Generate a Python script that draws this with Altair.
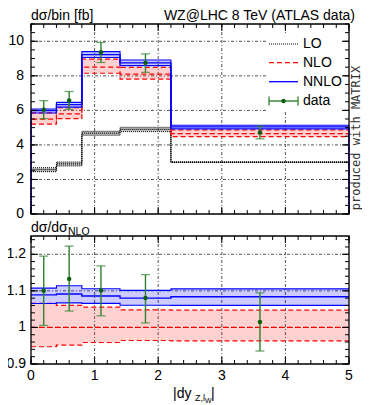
import altair as alt
import pandas as pd

# ---------------- data ----------------
bin_edges = [0.0, 0.4, 0.8, 1.4, 2.2, 5.0]

lo_central = [2.57, 2.90, 4.68, 4.90, 3.00]
lo_low = [2.45, 2.78, 4.56, 4.77, 2.98]
lo_high = [2.68, 3.01, 4.79, 5.02, 3.02]

nlo_central = [5.49, 5.80, 8.50, 8.10, 4.65]
nlo_low = [5.20, 5.52, 8.15, 7.81, 4.48]
nlo_high = [5.85, 6.15, 8.97, 8.49, 4.87]

nnlo_central = [5.98, 6.33, 9.23, 8.75, 5.04]
nnlo_low = [5.85, 6.19, 9.06, 8.59, 4.93]
nnlo_high = [6.08, 6.46, 9.40, 8.92, 5.14]

data_x = [0.2, 0.6, 1.1, 1.8, 3.6]
data_val = [6.04, 6.57, 9.36, 8.75, 4.72]
data_lo = [5.52, 6.06, 8.77, 8.20, 4.35]
data_hi = [6.56, 7.09, 9.93, 9.27, 5.09]

top_yticks = [0, 2, 4, 6, 8, 10]
top_ylabels = ["0", "2", "4", "6", "8", "10"]
bot_yticks = [0.9, 1.0, 1.1, 1.2]
bot_ylabels = ["0.9", "1", "1.1", "1.2"]
xticks = [0, 1, 2, 3, 4, 5]
xlabels = ["0", "1", "2", "3", "4", "5"]
legend_names = ["LO", "NLO", "NNLO", "data"]

# ---------------- layout ----------------
W = 318
TOP_H = 190
BOT_T, BOT_B = 212, 340
H = BOT_B
FONT = "Liberation Sans"
RED, BLUE, GREEN, GREEN_D = "#ff0000", "#0000ff", "#2f812f", "#0b5e0b"
GRID_DASH = [3, 2, 1, 2]

xs = alt.Scale(domain=[0, 5], nice=False, zero=False)
ys_top = alt.Scale(domain=[0, 11], range=[TOP_H, 0], nice=False, zero=False)
ys_bot = alt.Scale(domain=[0.9, 1.25], range=[BOT_B, BOT_T], nice=False, zero=False)


def X(f):
    return alt.X(f"{f}:Q", scale=xs, axis=None)


def Y(f, s):
    return alt.Y(f"{f}:Q", scale=s, axis=None)


def ratio(a, b):
    return [x / y for x, y in zip(a, b)]


def step_df(vals):
    return pd.DataFrame({"x": bin_edges, "y": vals + [vals[-1]]})


def band_df(lo, hi):
    return pd.DataFrame({"x": bin_edges, "lo": lo + [lo[-1]], "hi": hi + [hi[-1]]})


def drop_df(vals):
    xs_ = [0.0] + bin_edges + [5.0]
    ys_ = [0.0] + vals + [vals[-1]] + [0.0]
    return pd.DataFrame({"x": xs_, "y": ys_, "i": list(range(len(xs_)))})


def band(lo, hi, s, color, op):
    return alt.Chart(band_df(lo, hi)).mark_area(
        interpolate="step-after", color=color, opacity=op
    ).encode(x=X("x"), y=Y("lo", s), y2="hi")


def step(vals, s, color, dash, width=1.2):
    return alt.Chart(step_df(vals)).mark_line(
        interpolate="step-after", color=color, strokeDash=dash, strokeWidth=width
    ).encode(x=X("x"), y=Y("y", s))


def dropline(vals, s, color, dash, width=1.2):
    return alt.Chart(drop_df(vals)).mark_line(
        interpolate="step-after", color=color, strokeDash=dash, strokeWidth=width
    ).encode(x=X("x"), y=Y("y", s), order=alt.Order("i:Q"))


def txt(s, x, y, size=14, align="left", baseline="alphabetic", angle=0, font=FONT, color="black"):
    return alt.Chart(pd.DataFrame({"t": [s]})).mark_text(
        align=align, baseline=baseline, fontSize=size, font=font, color=color, angle=angle
    ).encode(x=alt.value(x), y=alt.value(y), text="t:N")


def hgrid(vals, s, x0, x1):
    return alt.Chart(pd.DataFrame({"v": vals})).mark_rule(
        color="black", strokeWidth=0.8, strokeDash=GRID_DASH, opacity=0.85
    ).encode(y=Y("v", s), x=alt.value(x0), x2=alt.value(x1))


def vgrid(vals, y0, y1):
    return alt.Chart(pd.DataFrame({"v": vals})).mark_rule(
        color="black", strokeWidth=0.8, strokeDash=GRID_DASH, opacity=0.85
    ).encode(x=X("v"), y=alt.value(y0), y2=alt.value(y1))


def yticks_rules(vals, s, length):
    c = alt.Chart(pd.DataFrame({"v": vals})).mark_rule(color="black", strokeWidth=1)
    return [c.encode(y=Y("v", s), x=alt.value(0), x2=alt.value(length)),
            c.encode(y=Y("v", s), x=alt.value(W), x2=alt.value(W - length))]


def xticks_rules(vals, y_top, y_bot, length):
    c = alt.Chart(pd.DataFrame({"v": vals})).mark_rule(color="black", strokeWidth=1)
    return [c.encode(x=X("v"), y=alt.value(y_top), y2=alt.value(y_top + length)),
            c.encode(x=X("v"), y=alt.value(y_bot), y2=alt.value(y_bot - length))]


def frame(y0, y1):
    return alt.Chart(pd.DataFrame({"a": [0]})).mark_rect(
        fillOpacity=0, stroke="black", strokeWidth=1.3
    ).encode(x=alt.value(0), x2=alt.value(W), y=alt.value(y0), y2=alt.value(y1))


def data_layers(xv, val, lo, hi, s):
    df = pd.DataFrame({"x": xv, "v": val, "lo": lo, "hi": hi})
    base = alt.Chart(df)
    return [
        base.mark_rule(color=GREEN, strokeWidth=1.4).encode(x=X("x"), y=Y("lo", s), y2="hi"),
        base.mark_tick(orient="horizontal", color=GREEN, size=9, thickness=1.3).encode(x=X("x"), y=Y("lo", s)),
        base.mark_tick(orient="horizontal", color=GREEN, size=9, thickness=1.3).encode(x=X("x"), y=Y("hi", s)),
        base.mark_point(filled=True, shape="circle", size=20, color=GREEN_D, opacity=1).encode(x=X("x"), y=Y("v", s)),
    ]


# ratios to NLO central
one = [1.0] * 5
r_nlo_lo, r_nlo_hi = ratio(nlo_low, nlo_central), ratio(nlo_high, nlo_central)
r_nnlo_c = ratio(nnlo_central, nlo_central)
r_nnlo_lo, r_nnlo_hi = ratio(nnlo_low, nlo_central), ratio(nnlo_high, nlo_central)
r_data = ratio(data_val, nlo_central)
r_data_lo, r_data_hi = ratio(data_lo, nlo_central), ratio(data_hi, nlo_central)

minor_x = [round(0.2 * k, 2) for k in range(26)]
minor_top_y = [0.5 * k for k in range(23)]
minor_bot_y = [round(0.9 + 0.02 * k, 2) for k in range(18)]

layers = []
# grids
layers += [hgrid(top_yticks[1:], ys_top, 0, W), vgrid([1, 2, 3, 4], 0, TOP_H),
           hgrid([1.0, 1.1, 1.2], ys_bot, 0, W), vgrid([1, 2, 3, 4], BOT_T, BOT_B)]

# legend white box (hides grid behind the key)
layers.append(alt.Chart(pd.DataFrame({"a": [0]})).mark_rect(color="white").encode(
    x=alt.value(236), x2=alt.value(310), y=alt.value(9), y2=alt.value(88)))

# ---- top panel ----
layers += [band(lo_low, lo_high, ys_top, "#777777", 0.45),
           band(nlo_low, nlo_high, ys_top, RED, 0.18),
           band(nnlo_low, nnlo_high, ys_top, BLUE, 0.22)]
layers += [step(lo_low, ys_top, "black", [1, 1], 1), step(lo_high, ys_top, "black", [1, 1], 1),
           dropline(lo_central, ys_top, "black", [1, 1], 1.1)]
layers += [step(nlo_low, ys_top, RED, [5, 3]), step(nlo_high, ys_top, RED, [5, 3]),
           dropline(nlo_central, ys_top, RED, [5, 3])]
layers += [step(nnlo_low, ys_top, BLUE, [1, 0], 1.1), step(nnlo_high, ys_top, BLUE, [1, 0], 1.1),
           dropline(nnlo_central, ys_top, BLUE, [1, 0], 1.3)]
layers += data_layers(data_x, data_val, data_lo, data_hi, ys_top)

# ---- ratio panel ----
layers += [band(r_nlo_lo, r_nlo_hi, ys_bot, RED, 0.18),
           band(r_nnlo_lo, r_nnlo_hi, ys_bot, BLUE, 0.2)]
layers += [step(r_nlo_lo, ys_bot, RED, [5, 3]), step(r_nlo_hi, ys_bot, RED, [5, 3]),
           step(one, ys_bot, RED, [5, 3])]
layers += [step(r_nnlo_lo, ys_bot, BLUE, [1, 0], 1.1), step(r_nnlo_hi, ys_bot, BLUE, [1, 0], 1.1),
           step(r_nnlo_c, ys_bot, BLUE, [1, 0], 1.3)]
layers += data_layers(data_x, r_data, r_data_lo, r_data_hi, ys_bot)

# ---- ticks and frames ----
layers += yticks_rules(top_yticks, ys_top, 7) + yticks_rules(minor_top_y, ys_top, 4)
layers += yticks_rules(bot_yticks, ys_bot, 7) + yticks_rules(minor_bot_y, ys_bot, 4)
layers += xticks_rules(xticks, 0, TOP_H, 7) + xticks_rules(minor_x, 0, TOP_H, 4)
layers += xticks_rules(xticks, BOT_T, BOT_B, 7) + xticks_rules(minor_x, BOT_T, BOT_B, 4)
layers += [frame(0, TOP_H), frame(BOT_T, BOT_B)]

# ---- tick labels ----
layers.append(alt.Chart(pd.DataFrame({"v": top_yticks, "t": top_ylabels})).mark_text(
    align="right", baseline="middle", fontSize=14, font=FONT).encode(
    x=alt.value(-7), y=Y("v", ys_top), text="t:N"))
layers.append(alt.Chart(pd.DataFrame({"v": bot_yticks, "t": bot_ylabels})).mark_text(
    align="right", baseline="middle", fontSize=14, font=FONT).encode(
    x=alt.value(-5), y=Y("v", ys_bot), text="t:N"))
layers.append(alt.Chart(pd.DataFrame({"v": xticks, "t": xlabels})).mark_text(
    align="center", baseline="alphabetic", fontSize=14, font=FONT).encode(
    x=X("v"), y=alt.value(356), text="t:N"))

# ---- legend ----
leg_y = [20, 38.7, 57.7, 77]
L0, L1 = 238, 267
layers.append(alt.Chart(pd.DataFrame({"a": [0]})).mark_rule(color="black", strokeDash=[1, 1], strokeWidth=1.2).encode(
    x=alt.value(L0), x2=alt.value(L1), y=alt.value(leg_y[0])))
layers.append(alt.Chart(pd.DataFrame({"a": [0]})).mark_rule(color=RED, strokeDash=[5, 3], strokeWidth=1.3).encode(
    x=alt.value(L0), x2=alt.value(L1), y=alt.value(leg_y[1])))
layers.append(alt.Chart(pd.DataFrame({"a": [0]})).mark_rule(color=BLUE, strokeWidth=1.3).encode(
    x=alt.value(L0), x2=alt.value(L1), y=alt.value(leg_y[2])))
layers.append(alt.Chart(pd.DataFrame({"a": [0]})).mark_rule(color=GREEN, strokeWidth=1.4).encode(
    x=alt.value(L0), x2=alt.value(L1), y=alt.value(leg_y[3])))
for xx in (L0, L1):
    layers.append(alt.Chart(pd.DataFrame({"a": [0]})).mark_rule(color=GREEN, strokeWidth=1.3).encode(
        x=alt.value(xx), y=alt.value(leg_y[3] - 4.5), y2=alt.value(leg_y[3] + 4.5)))
layers.append(alt.Chart(pd.DataFrame({"a": [0]})).mark_point(filled=True, shape="circle", size=20, color=GREEN_D, opacity=1).encode(
    x=alt.value((L0 + L1) / 2), y=alt.value(leg_y[3])))
for name, yy in zip(legend_names, leg_y):
    layers.append(txt(name, 272, yy, size=14, baseline="middle"))

# ---- titles and annotations ----
layers.append(txt("dσ/bin [fb]", 0, -4))
layers.append(txt("WZ@LHC 8 TeV (ATLAS data)", W + 6, -4, align="right"))
layers.append(txt("dσ/dσ", 0, 208))
layers.append(txt("NLO", 37, 211, size=10.5))
layers.append(txt("|dy", 142, 374))
layers.append(txt("Z,l", 164, 377, size=9))
layers.append(txt("W", 174, 379, size=7))
layers.append(txt("|", 180, 374))
layers.append(txt("produced with MATRIX", W + 7, 114, size=12, align="center", baseline="middle",
                  angle=270, font="DejaVu Sans Mono", color="#333333"))

chart = alt.layer(*layers).resolve_scale(y="independent").properties(
    width=W, height=H,
    padding={"left": 23, "top": 16, "right": 13, "bottom": 41},
    autosize=alt.AutoSizeParams(type="none"),
).configure_view(stroke=None)

chart.save("out.html", embed_options={"renderer": "svg", "actions": False})
